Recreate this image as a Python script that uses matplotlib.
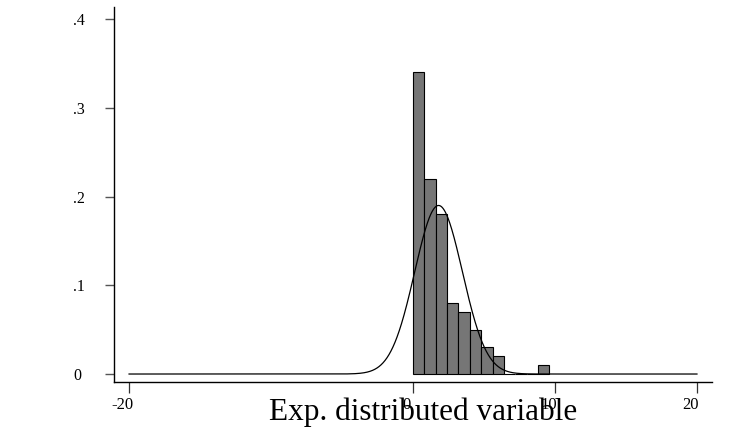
import numpy as np
import matplotlib
matplotlib.use("Agg")
import matplotlib.pyplot as plt
from matplotlib.transforms import ScaledTranslation

# Histogram (fraction) data
bin_width = 0.8
bin_starts = [0.0, 0.8, 1.6, 2.4, 3.2, 4.0, 4.8, 5.6, 6.4, 7.2, 8.0, 8.8]
fractions = [0.34, 0.22, 0.18, 0.08, 0.07, 0.05, 0.03, 0.02, 0.0, 0.0, 0.0, 0.01]

# Normal overlay parameters
norm_mean = 1.8
norm_sd = 1.68
curve_range = (-20, 20)

x_ticks = [-20, 0, 10, 20]
x_ticklabels = ["-20", "0", "10", "20"]
y_ticks = [0, 0.1, 0.2, 0.3, 0.4]
y_ticklabels = ["0", ".1", ".2", ".3", ".4"]
x_label = "Exp. distributed variable"

plt.rcParams['font.family'] = ['Liberation Serif', 'DejaVu Serif']

fig = plt.figure(figsize=(7.29, 4.34), dpi=100)
ax = fig.add_axes([0.1564, 0.1198, 0.8203, 0.8648])

ax.bar(bin_starts, fractions, width=bin_width, align='edge',
       color='#767676', edgecolor='black', linewidth=0.8, zorder=2)

xs = np.linspace(curve_range[0], curve_range[1], 2000)
ys = bin_width * np.exp(-0.5 * ((xs - norm_mean) / norm_sd) ** 2) / (norm_sd * np.sqrt(2 * np.pi))
ax.plot(xs, ys, color='black', linewidth=0.9, zorder=3)

ax.set_xlim(-21.06, 21.06)
ax.set_ylim(-0.009, 0.414)

ax.spines['top'].set_visible(False)
ax.spines['right'].set_visible(False)
for s in ['left', 'bottom']:
    ax.spines[s].set_linewidth(1.0)
    ax.spines[s].set_color('black')

ax.set_xticks(x_ticks)
ax.set_xticklabels(x_ticklabels, fontsize=12)
ax.set_yticks(y_ticks)
ax.set_yticklabels(y_ticklabels, fontsize=11.5)
ax.tick_params(axis='x', length=8, width=0.9, color='#333333', pad=2.5)
ax.tick_params(axis='y', length=6.5, width=1.0, color='#555555', pad=23)
for lab in ax.get_yticklabels():
    lab.set_horizontalalignment('left')
shift = ScaledTranslation(-0.065, 0, fig.dpi_scale_trans)
for lab in ax.get_xticklabels():
    lab.set_transform(lab.get_transform() + shift)

ax.set_xlabel(x_label, fontsize=22.5, va='baseline')
ax.xaxis.set_label_coords(0.5176, -0.101)

fig.savefig("out.png", dpi=100)
